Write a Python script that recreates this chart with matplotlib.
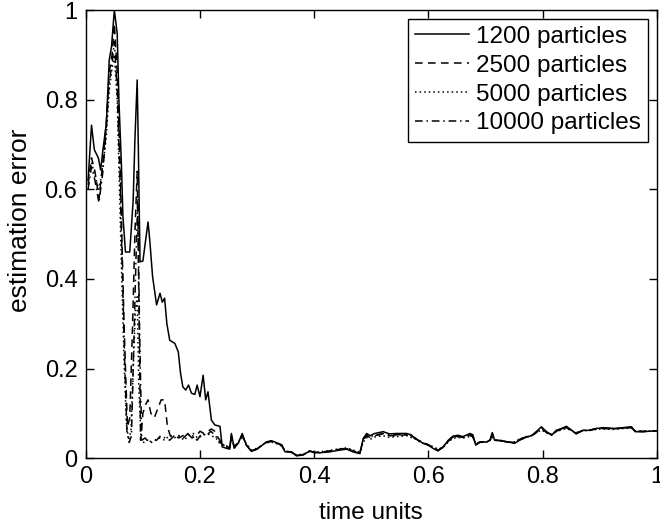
import numpy as np
import matplotlib
matplotlib.use("Agg")
import matplotlib.pyplot as plt

plt.rcParams['font.family'] = ['Liberation Sans', 'DejaVu Sans']

labels = ["1200 particles", "2500 particles", "5000 particles", "10000 particles"]

# early part (t < 0.25), one per series
t1200 = [0.004,0.010,0.015,0.022,0.026,0.030,0.036,0.041,0.045,0.050,0.055,0.058,0.0625,0.065,0.0695,
	0.077,0.083,0.086,0.090,0.092,0.095,0.100,0.109,0.112,0.117,0.124,0.130,0.134,0.138,0.142,0.147,
	0.156,0.162,0.166,0.170,0.175,0.180,0.185,0.191,0.195,0.200,0.2055,0.210,0.214,0.220,0.226,0.235,0.239,0.246]
e1200 = [0.62,0.743,0.688,0.67,0.643,0.688,0.747,0.888,0.918,1.0,0.948,0.80,0.65,0.54,0.46,
	0.46,0.576,0.71,0.844,0.695,0.438,0.44,0.527,0.487,0.405,0.342,0.368,0.348,0.357,0.30,0.263,
	0.256,0.237,0.189,0.159,0.152,0.163,0.145,0.142,0.163,0.137,0.185,0.13,0.148,0.085,0.074,0.071,0.025,0.022]

t2500 = [0.004,0.010,0.016,0.023,0.030,0.036,0.041,0.046,0.050,0.055,0.060,0.064,0.067,0.070,0.073,
	0.077,0.082,0.086,0.090,0.093,0.096,0.100,0.105,0.109,0.114,0.120,0.126,0.132,0.138,0.143,
	0.148,0.155,0.163,0.170,0.178,0.186,0.194,0.200,0.207,0.214,0.220,0.226,0.232,0.238,0.246]
e2500 = [0.61,0.67,0.64,0.58,0.66,0.75,0.86,0.90,0.97,0.86,0.66,0.45,0.30,0.18,0.07,
	0.09,0.30,0.50,0.64,0.35,0.04,0.10,0.12,0.13,0.10,0.09,0.11,0.13,0.13,0.07,
	0.05,0.05,0.045,0.05,0.055,0.045,0.05,0.06,0.055,0.06,0.065,0.06,0.045,0.035,0.028]

t5000 = [0.004,0.010,0.016,0.023,0.030,0.036,0.041,0.046,0.050,0.055,0.059,0.063,0.067,0.071,0.075,
	0.079,0.083,0.087,0.090,0.093,0.097,0.102,0.108,0.115,0.122,0.130,0.138,0.146,0.155,0.163,
	0.172,0.180,0.188,0.196,0.204,0.212,0.220,0.228,0.236,0.246]
e5000 = [0.62,0.66,0.63,0.60,0.65,0.72,0.82,0.87,0.90,0.80,0.60,0.40,0.22,0.08,0.04,
	0.06,0.20,0.33,0.36,0.15,0.04,0.035,0.04,0.035,0.04,0.045,0.04,0.05,0.045,0.05,
	0.04,0.05,0.055,0.045,0.05,0.055,0.05,0.045,0.03,0.025]

t10000 = [0.004,0.010,0.016,0.023,0.030,0.036,0.041,0.046,0.050,0.055,0.060,0.064,0.068,0.072,0.076,
	0.080,0.084,0.088,0.091,0.094,0.098,0.104,0.110,0.117,0.124,0.131,0.139,0.147,0.155,0.163,
	0.171,0.179,0.187,0.195,0.203,0.211,0.219,0.227,0.235,0.246]
e10000 = [0.60,0.65,0.62,0.57,0.64,0.74,0.84,0.88,0.93,0.82,0.62,0.42,0.22,0.06,0.035,
	0.05,0.25,0.45,0.58,0.30,0.04,0.045,0.035,0.04,0.04,0.05,0.045,0.04,0.05,0.05,
	0.045,0.055,0.05,0.04,0.055,0.05,0.06,0.05,0.035,0.025]

# later part, common time grid
tTail = [0.252,0.255,0.260,0.267,0.274,0.281,0.290,0.300,0.316,0.325,0.337,0.343,0.349,0.360,0.369,
	0.381,0.392,0.401,0.410,0.427,0.445,0.457,0.468,0.480,0.486,0.492,0.498,0.506,0.521,0.532,
	0.544,0.562,0.570,0.576,0.582,0.591,0.600,0.608,0.617,0.626,0.635,0.643,0.652,0.661,0.673,
	0.678,0.683,0.690,0.702,0.708,0.712,0.716,0.728,0.740,0.751,0.760,0.772,0.781,0.789,0.798,
	0.807,0.816,0.824,0.833,0.842,0.851,0.859,0.871,0.883,0.894,0.906,0.924,0.941,0.956,0.962,0.976,1.0]

tail1200 = [0.020,0.055,0.022,0.033,0.055,0.029,0.015,0.020,0.036,0.039,
	0.033,0.030,0.014,0.014,0.005,0.007,0.016,0.012,0.012,0.014,
	0.018,0.020,0.014,0.010,0.044,0.055,0.050,0.055,0.059,0.054,
	0.055,0.055,0.052,0.044,0.040,0.033,0.029,0.022,0.016,0.025,
	0.040,0.049,0.051,0.048,0.055,0.052,0.029,0.036,0.036,0.040,
	0.057,0.040,0.039,0.036,0.033,0.040,0.047,0.050,0.059,0.070,
	0.059,0.051,0.062,0.066,0.071,0.062,0.054,0.062,0.062,0.066,
	0.068,0.066,0.068,0.070,0.059,0.059,0.061]
tail2500 = [0.022,0.050,0.025,0.035,0.052,0.030,0.016,0.021,0.035,0.037,
	0.032,0.028,0.015,0.013,0.006,0.008,0.015,0.013,0.013,0.016,
	0.020,0.022,0.016,0.012,0.040,0.050,0.046,0.050,0.054,0.050,
	0.050,0.052,0.048,0.046,0.040,0.034,0.030,0.024,0.018,0.024,
	0.038,0.046,0.048,0.046,0.050,0.048,0.030,0.035,0.037,0.040,
	0.052,0.040,0.039,0.036,0.035,0.042,0.048,0.050,0.057,0.066,
	0.057,0.052,0.060,0.064,0.068,0.062,0.056,0.062,0.063,0.065,
	0.066,0.065,0.067,0.068,0.060,0.060,0.061]
tail5000 = [0.024,0.045,0.026,0.034,0.048,0.032,0.018,0.022,0.034,0.036,
	0.031,0.027,0.016,0.014,0.007,0.009,0.014,0.014,0.014,0.017,
	0.021,0.023,0.018,0.013,0.036,0.046,0.042,0.047,0.050,0.046,
	0.048,0.050,0.046,0.044,0.038,0.033,0.030,0.026,0.020,0.024,
	0.036,0.044,0.046,0.045,0.048,0.046,0.032,0.035,0.036,0.039,
	0.048,0.040,0.038,0.036,0.036,0.043,0.048,0.051,0.056,0.063,
	0.056,0.053,0.059,0.063,0.066,0.061,0.057,0.061,0.062,0.064,
	0.065,0.064,0.066,0.067,0.061,0.060,0.060]
tail10000 = [0.021,0.048,0.024,0.036,0.050,0.031,0.017,0.020,0.035,0.038,
	0.032,0.029,0.015,0.014,0.006,0.008,0.016,0.013,0.012,0.015,
	0.019,0.021,0.015,0.011,0.042,0.052,0.047,0.051,0.055,0.052,
	0.052,0.053,0.050,0.045,0.041,0.034,0.029,0.023,0.017,0.025,
	0.039,0.047,0.049,0.047,0.052,0.050,0.030,0.036,0.036,0.040,
	0.054,0.040,0.039,0.035,0.034,0.041,0.047,0.050,0.058,0.068,
	0.058,0.052,0.061,0.065,0.070,0.062,0.055,0.062,0.062,0.066,
	0.067,0.066,0.067,0.069,0.060,0.059,0.061]

series = [
	(t1200, e1200, tail1200, '-', None),
	(t2500, e2500, tail2500, '--', (5, 3.5)),
	(t5000, e5000, tail5000, ':', (1, 2)),
	(t10000, e10000, tail10000, '-.', (5, 2.5, 1, 2.5)),
]

fig = plt.figure(figsize=(6.6, 5.29), dpi=100)
ax = fig.add_axes([0.130, 0.134, 0.865, 0.847])

for (tE, vE, vT, ls, dash), lab in zip(series, labels):
	t = tE + tTail
	v = vE + vT
	line, = ax.plot(t, v, color='black', linestyle=ls, linewidth=1.1, label=lab)
	if dash is not None:
		line.set_dashes(dash)

ax.set_xlim(0, 1)
ax.set_ylim(0, 1)
ax.set_xticks([0, 0.2, 0.4, 0.6, 0.8, 1])
ax.set_xticklabels(['0', '0.2', '0.4', '0.6', '0.8', '1'])
ax.set_yticks([0, 0.2, 0.4, 0.6, 0.8, 1])
ax.set_yticklabels(['0', '0.2', '0.4', '0.6', '0.8', '1'])
ax.tick_params(direction='in', top=True, right=True, length=6, width=1.0, labelsize=17, pad=6)
for s in ax.spines.values():
	s.set_linewidth(1.0)
ax.set_xlabel('time units', fontsize=17.5, labelpad=10)
ax.set_ylabel('estimation error', fontsize=19, labelpad=11)
ax.yaxis.set_label_coords(-0.095, 0.53)

leg = ax.legend(loc='upper right', fontsize=17.5, frameon=True, fancybox=False, framealpha=1,
	edgecolor='black', handlelength=2.2, handletextpad=0.3, borderpad=0.3, labelspacing=0.28,
	borderaxespad=0.35)
leg.get_frame().set_linewidth(1.0)

plt.savefig('out.png', dpi=100)
